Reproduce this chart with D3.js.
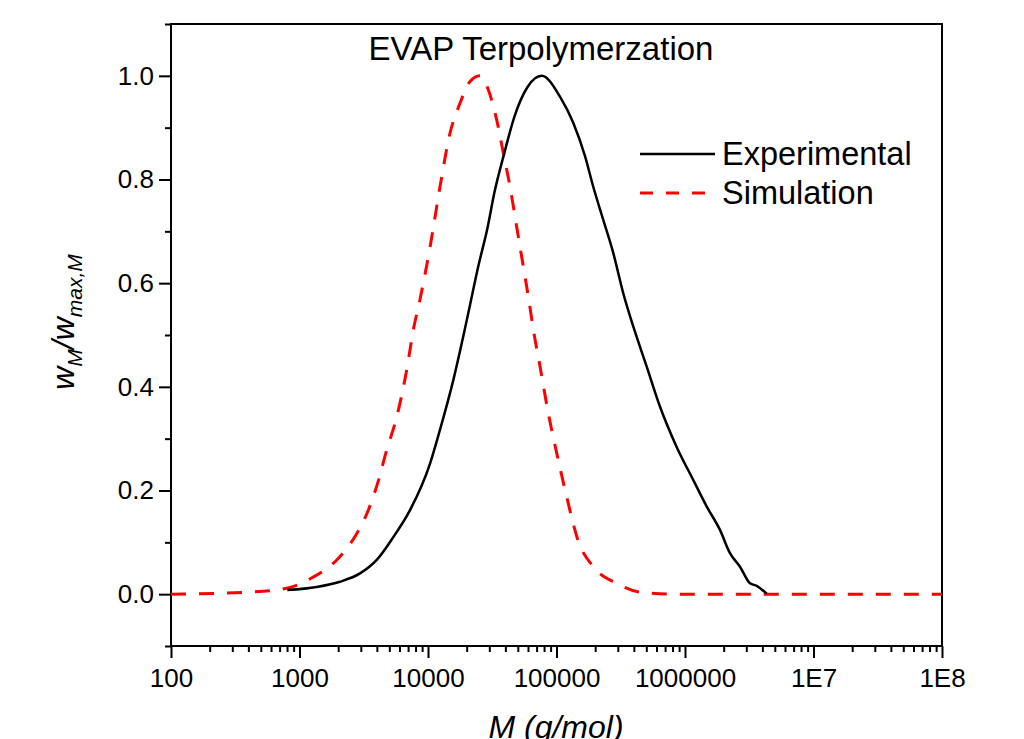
<!DOCTYPE html>
<html>
<head>
<meta charset="utf-8">
<script src="https://cdn.jsdelivr.net/npm/d3@7"></script>
<style>
  body { margin: 0; background: #fff; }
  svg { display: block; font-family: Arial, "Liberation Sans", sans-serif; }
</style>
</head>
<body>
<svg width="1024" height="739"></svg>
<script>
// molar mass (g/mol) and normalised weight fraction
const expM = [804, 1361, 2065, 2958, 3990, 5370, 7244, 10370, 12390, 15740, 18840, 21230, 24600,
  29170, 32810, 39260, 46990, 59700, 76740, 106400, 135200, 166700, 193200, 231200, 276700,
  331100, 396300, 503500, 638300, 861000, 1161000, 1476000, 1871000, 2239000, 2679000,
  3206000, 3614000, 4325000]
const expW = [0.008, 0.014, 0.024, 0.040, 0.066, 0.110, 0.162, 0.252, 0.317, 0.413, 0.498, 0.558, 0.632,
  0.709, 0.774, 0.851, 0.921, 0.979, 1.000, 0.960, 0.909, 0.845, 0.786, 0.722, 0.658,
  0.580, 0.516, 0.439, 0.362, 0.284, 0.220, 0.169, 0.124, 0.079, 0.053,
  0.021, 0.016, 0.001]

const simM = [100, 412, 844, 1280, 1950, 2790, 3430, 4100, 4770, 5710, 6820, 7690, 8670, 10380,
  12400, 14820, 17730, 21230, 25400, 29460, 34250, 38560, 43480, 48980, 55170, 60380,
  66070, 74470, 86360, 100400, 120000, 146900, 193200, 293600, 446700, 811000, 1e8]
const simW = [0.0, 0.004, 0.013, 0.033, 0.066, 0.117, 0.162, 0.218, 0.278, 0.342, 0.432, 0.510, 0.569, 0.670,
  0.786, 0.889, 0.947, 0.989, 1.000, 0.973, 0.915, 0.851, 0.786, 0.709, 0.632, 0.574,
  0.510, 0.439, 0.349, 0.272, 0.188, 0.104, 0.053, 0.021, 0.004, 0.0, 0.0]

const xTicks = [1e2, 1e3, 1e4, 1e5, 1e6, 1e7, 1e8]
const xTickLabels = ["100", "1000", "10000", "100000", "1000000", "1E7", "1E8"]
const yTicks = [0, 0.2, 0.4, 0.6, 0.8, 1.0]
const yMinor = [-0.1, 0.1, 0.3, 0.5, 0.7, 0.9, 1.1]

const width = 1024, height = 739
const margin = {top: 24, right: 82, bottom: 93, left: 171}

const svg = d3.select("svg")

const x = d3.scaleLog()
  .domain([1e2, 1e8])
  .range([margin.left, width - margin.right])

const y = d3.scaleLinear()
  .domain([-0.1, 1.1])
  .range([height - margin.bottom, margin.top])

// minor ticks on the log axis: 2..9 of every decade
let xMinor = []
for (let e = 2; e < 8; e++)
  for (let k = 2; k <= 9; k++) xMinor.push(k * Math.pow(10, e))

const styleAxis = g => {
  g.select(".domain").remove()
  g.selectAll(".tick line").attr("stroke", "#000").attr("stroke-width", 2)
  g.selectAll(".tick text").attr("font-size", 26).attr("fill", "#000")
    .attr("font-family", "Arial, 'Liberation Sans', sans-serif")
}

svg.append("g")
  .attr("transform", `translate(0,${height - margin.bottom})`)
  .call(d3.axisBottom(x).tickValues(xMinor).tickSize(6).tickFormat(""))
  .call(styleAxis)

svg.append("g")
  .attr("transform", `translate(0,${height - margin.bottom})`)
  .call(d3.axisBottom(x).tickValues(xTicks).tickSize(12).tickPadding(11)
    .tickFormat((d, i) => xTickLabels[i]))
  .call(styleAxis)

svg.append("g")
  .attr("transform", `translate(${margin.left},0)`)
  .call(d3.axisLeft(y).tickValues(yMinor).tickSize(6).tickFormat(""))
  .call(styleAxis)

svg.append("g")
  .attr("transform", `translate(${margin.left},0)`)
  .call(d3.axisLeft(y).tickValues(yTicks).tickSize(12).tickPadding(5)
    .tickFormat(d3.format(".1f")))
  .call(styleAxis)

// frame
svg.append("rect")
  .attr("x", margin.left)
  .attr("y", margin.top)
  .attr("width", width - margin.left - margin.right)
  .attr("height", height - margin.top - margin.bottom)
  .attr("fill", "none")
  .attr("stroke", "#000")
  .attr("stroke-width", 2)

const line = d3.line()
  .x(d => x(d[0]))
  .y(d => y(d[1]))
  .curve(d3.curveMonotoneX)

svg.append("path")
  .datum(d3.zip(simM, simW))
  .attr("fill", "none")
  .attr("stroke", "#ff0000")
  .attr("stroke-width", 3)
  .attr("stroke-dasharray", "15,13")
  .attr("d", line)

svg.append("path")
  .datum(d3.zip(expM, expW))
  .attr("fill", "none")
  .attr("stroke", "#000")
  .attr("stroke-width", 2.5)
  .attr("stroke-linejoin", "round")
  .attr("d", line)

// title
svg.append("text")
  .attr("x", 541)
  .attr("y", 60)
  .attr("text-anchor", "middle")
  .attr("font-size", 33)
  .text("EVAP Terpolymerzation")

// legend
const legend = [
  {name: "Experimental", color: "#000", dash: null, w: 2.5, y: 154},
  {name: "Simulation", color: "#ff0000", dash: "13,13", w: 3, y: 193}
]
const lg = svg.append("g").selectAll("g").data(legend).join("g")
lg.append("line")
  .attr("x1", 640).attr("x2", 715)
  .attr("y1", d => d.y).attr("y2", d => d.y)
  .attr("stroke", d => d.color)
  .attr("stroke-width", d => d.w)
  .attr("stroke-dasharray", d => d.dash)
lg.append("text")
  .attr("x", 722)
  .attr("y", d => d.y + 11)
  .attr("font-size", 32.5)
  .text(d => d.name)

// axis titles
svg.append("text")
  .attr("x", 556)
  .attr("y", 738)
  .attr("text-anchor", "middle")
  .attr("font-size", 32)
  .attr("font-style", "italic")
  .text("M (g/mol)")

const yl = svg.append("text")
  .attr("transform", "translate(74,322) rotate(-90)")
  .attr("text-anchor", "middle")
  .attr("font-size", 32)
  .attr("font-style", "italic")
yl.append("tspan").text("w")
yl.append("tspan").attr("font-size", 21).attr("dy", 8).text("M")
yl.append("tspan").attr("dy", -8).text("/w")
yl.append("tspan").attr("font-size", 21).attr("dy", 8).text("max,M")
</script>
</body>
</html>
